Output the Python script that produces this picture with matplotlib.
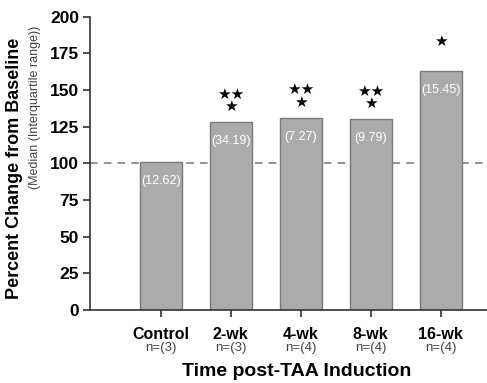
import matplotlib.pyplot as plt
import matplotlib.transforms as mtransforms

plt.rcParams['font.family'] = ['Liberation Sans', 'DejaVu Sans']

groups = ['Control', '2-wk', '4-wk', '8-wk', '16-wk']
n_labels = ['n=(3)', 'n=(3)', 'n=(4)', 'n=(4)', 'n=(4)']
medians = [101, 128, 131, 130, 163]
iqr = ['(12.62)', '(34.19)', '(7.27)', '(9.79)', '(15.45)']
stars = ['', '★★\n★', '★★\n★', '★★\n★', '★']

fig = plt.figure(figsize=(4.87, 3.83), dpi=100)
ax = fig.add_axes([0.185, 0.191, 0.815, 0.765])

x = range(len(groups))
ax.bar(x, medians, width=0.6, color='#ababab', edgecolor='#7a7a7a', linewidth=1, zorder=2)
ax.axhline(100, color='#777777', linestyle=(0, (5, 4)), linewidth=1.1, zorder=1)

for i, (m, lab, s) in enumerate(zip(medians, iqr, stars)):
    ax.text(i, m - 13, lab, ha='center', va='center', color='white', fontsize=9)
    if s:
        ax.text(i, m + 15 if '\n' in s else m + 20, s, ha='center', va='center',
                fontsize=11, linespacing=0.8, family='DejaVu Sans')

ax.set_xlim(-1.01, 4.66)
ax.set_ylim(0, 200)
ax.set_yticks(range(0, 201, 25))
ax.set_xticks(list(x))
ax.set_xticklabels(groups, fontweight='bold', fontsize=11.5)
for t in ax.get_yticklabels():
    t.set_fontweight('bold')
    t.set_fontsize(12.5)
ax.tick_params(axis='both', direction='out', length=5, width=1.2, color='#333333')
ax.tick_params(axis='y', pad=3)
ax.tick_params(axis='x', pad=7)

trans = mtransforms.blended_transform_factory(ax.transData, fig.transFigure)
for i, n in enumerate(n_labels):
    ax.text(i, 1 - 348 / 383, n, transform=trans, ha='center', va='center',
            fontsize=9.5, color='#444444')

for side in ['top', 'right']:
    ax.spines[side].set_visible(False)
for side in ['left', 'bottom']:
    ax.spines[side].set_linewidth(1.2)
    ax.spines[side].set_color('#333333')

fig.text(297 / 487, 1 - 371 / 383, 'Time post-TAA Induction', ha='center', va='center',
         fontsize=14, fontweight='bold')
fig.text(15 / 487, 0.56, 'Percent Change from Baseline', rotation=90, ha='center',
         va='center', fontsize=13, fontweight='bold')
fig.text(35 / 487, 0.72, '(Median (Interquartile range))', rotation=90, ha='center',
         va='center', fontsize=9, color='#444444')

fig.savefig('out.png', dpi=100)
